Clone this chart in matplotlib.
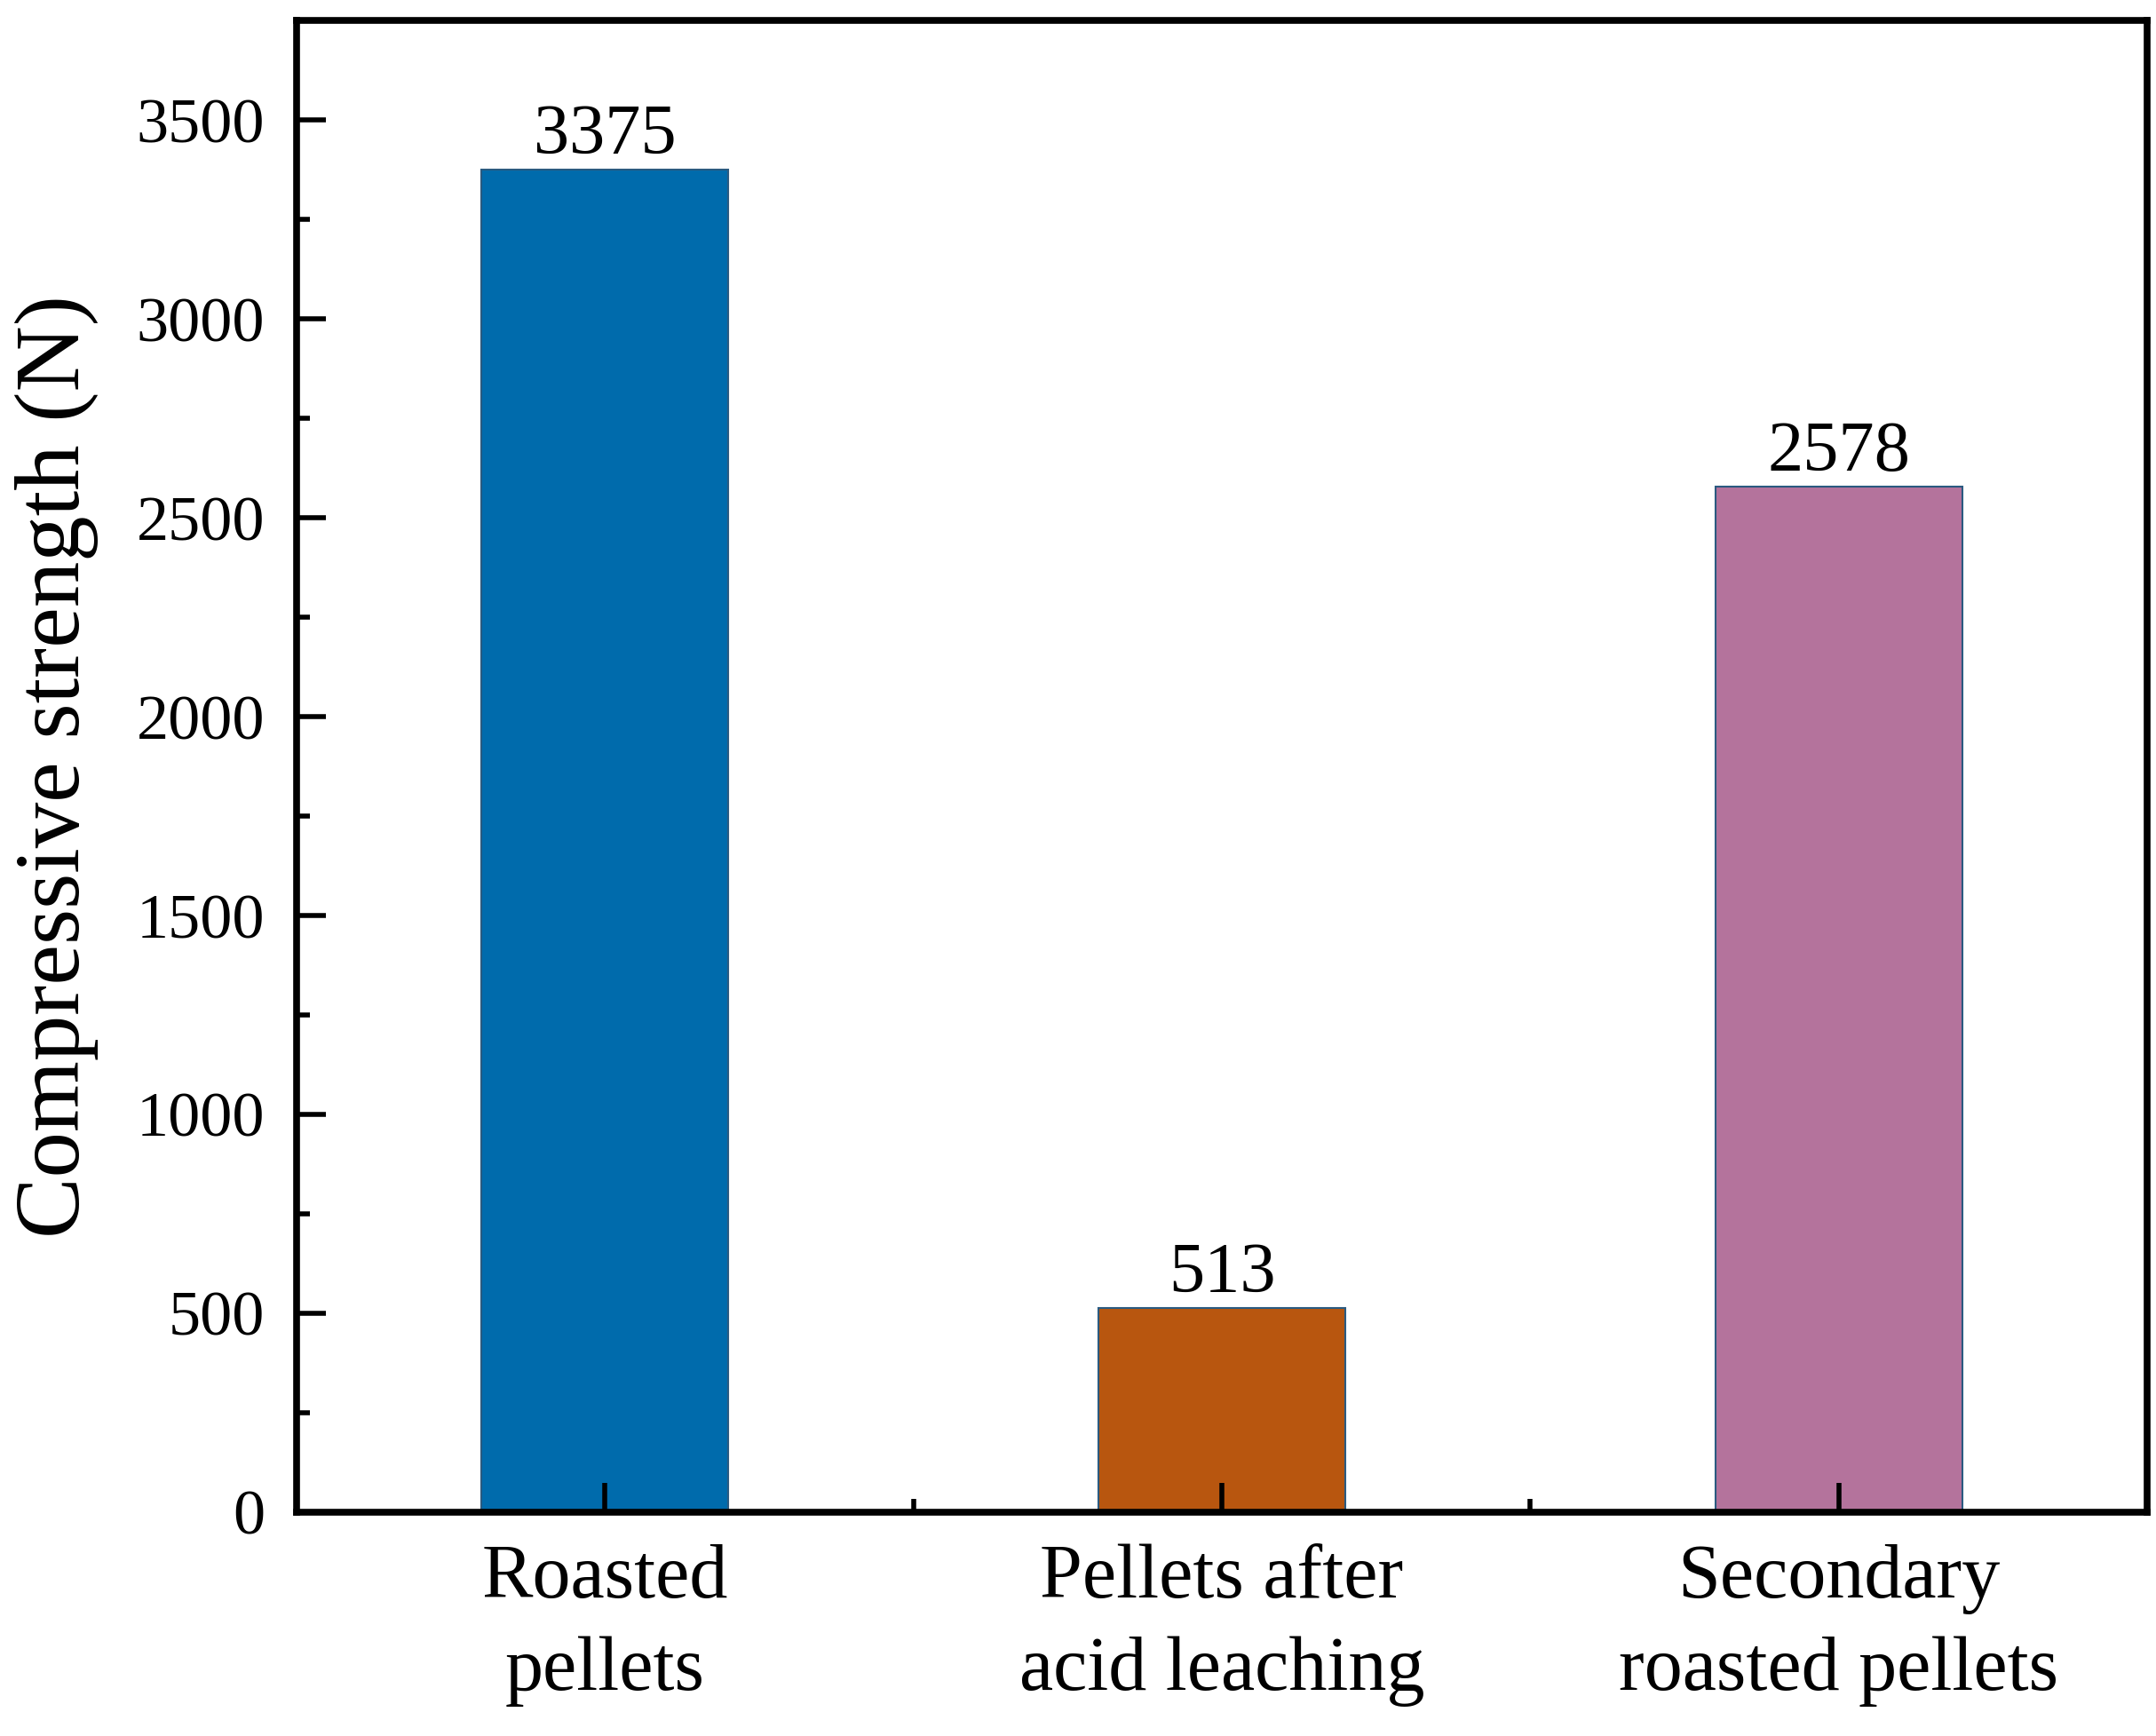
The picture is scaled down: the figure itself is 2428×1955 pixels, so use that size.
import numpy as np
import matplotlib.pyplot as plt
from matplotlib.ticker import MultipleLocator, FixedLocator

categories = ["Roasted\npellets", "Pellets after\nacid leaching", "Secondary\nroasted pellets"]
strength = [3375, 513, 2578]
bar_colors = ["#006BAC", "#B8560F", "#B4739C"]

plt.rcParams['font.family'] = ['Liberation Serif', 'DejaVu Serif']

fig = plt.figure(figsize=(24.28, 19.55), dpi=100)
ax = fig.add_axes([0.1376, 0.129, 0.8583, 0.859])

x = np.arange(len(categories))
bars = ax.bar(x, strength, width=0.4, color=bar_colors,
              edgecolor="#2A5A80", linewidth=1.5, zorder=1)

for xi, v in zip(x, strength):
    ax.annotate(str(v), (xi, v), xytext=(0, 1), textcoords="offset points",
                ha="center", va="bottom", fontsize=58)

ax.set_xlim(-0.5, 2.5)
ax.set_ylim(0, 3750)

ax.set_xticks(x)
ax.set_xticklabels(categories, fontsize=62, linespacing=1.4)
ax.xaxis.set_minor_locator(FixedLocator([0.5, 1.5]))
ax.yaxis.set_major_locator(MultipleLocator(500))
ax.yaxis.set_minor_locator(MultipleLocator(250))

ax.tick_params(axis="both", which="major", direction="in", length=24, width=4)
ax.tick_params(axis="both", which="minor", direction="in", length=11, width=4)
ax.tick_params(axis="y", which="major", labelsize=52, pad=26)
ax.tick_params(axis="x", which="major", pad=26)
# ticks drawn on top of the bars
ax.set_axisbelow(False)

for s in ax.spines.values():
    s.set_linewidth(5.5)
    s.set_zorder(6)

ax.set_ylabel("Compressive strength (N)", fontsize=74)
ax.yaxis.set_label_coords(-0.107, 0.5)

fig.savefig("out.png", dpi=100)
